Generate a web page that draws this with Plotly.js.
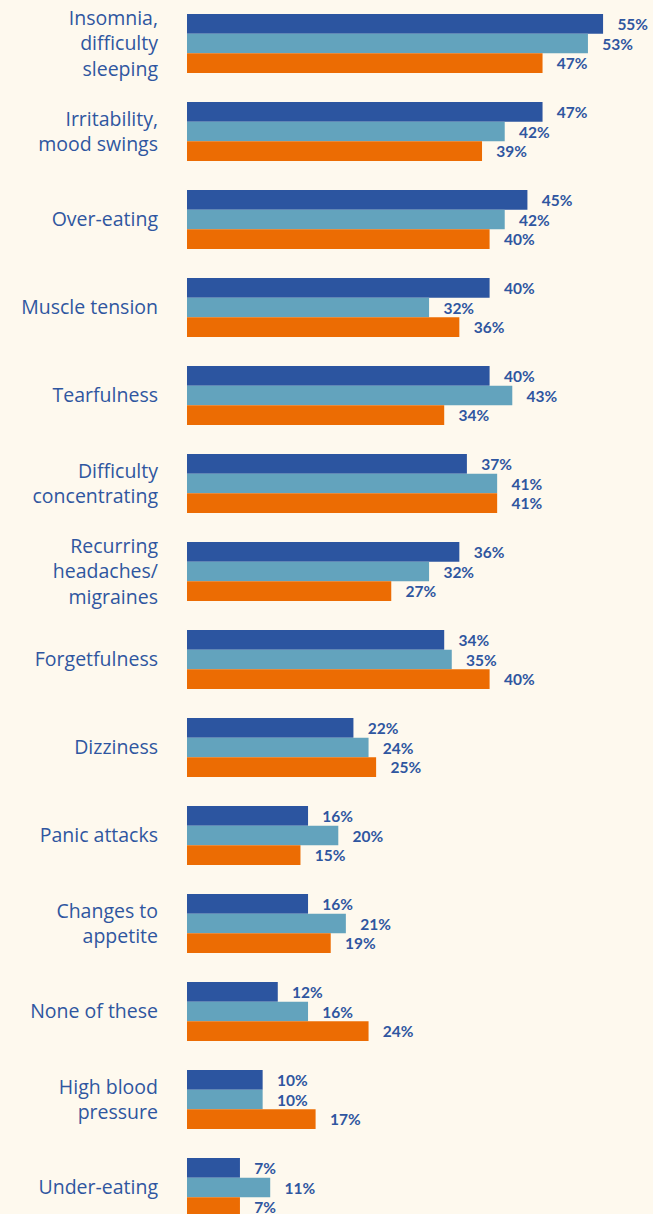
<!DOCTYPE html>
<html><head><meta charset="utf-8">
<script src="https://cdn.plot.ly/plotly-3.0.1.min.js"></script>
<style>html,body{margin:0;padding:0;background:#fef9ee;}#chart{width:653px;height:1214px;}</style>
</head><body><div id="chart"></div>
<script>
const categories = ["Insomnia,<br>difficulty<br>sleeping","Irritability,<br>mood swings","Over-eating","Muscle tension","Tearfulness","Difficulty<br>concentrating","Recurring<br>headaches/<br>migraines","Forgetfulness","Dizziness","Panic attacks","Changes to<br>appetite","None of these","High blood<br>pressure","Under-eating"];
const seriesA = [55,47,45,40,40,37,36,34,22,16,16,12,10,7];
const seriesB = [53,42,42,32,43,41,32,35,24,20,21,16,10,11];
const seriesC = [47,39,40,36,34,41,27,40,25,15,19,24,17,7];
const seriesNames = ["Series 1","Series 2","Series 3"];
const colors = ["#2c55a0","#63a3bd","#ec6c03"];
const labelColor = "#2f56a0";

const all = [seriesA, seriesB, seriesC];
const traces = all.map((vals, i) => ({
  type: "bar", orientation: "h",
  name: seriesNames[i],
  y: categories, x: vals,
  marker: {color: colors[i]},
  text: vals.map(v => "\u00a0\u00a0\u00a0" + v + "%"),
  textposition: "outside",
  textfont: {family: "Lato, sans-serif", size: 15.5, color: labelColor, weight: 700},
  constraintext: "none",
  cliponaxis: false,
  hoverinfo: "skip"
}));

const layout = {
  width: 653, height: 1214,
  margin: {l: 187, r: 0, t: 0, b: 0},
  paper_bgcolor: "#fef9ee", plot_bgcolor: "#fef9ee",
  barmode: "group", bargap: 0.33, bargroupgap: 0,
  showlegend: false,
  xaxis: {range: [0, 61.6], visible: false, fixedrange: true},
  yaxis: {
    type: "category", categoryorder: "array", categoryarray: categories,
    range: [13.301, -0.4943],
    showgrid: false, zeroline: false, showline: false, ticks: "",
    ticklabelstandoff: 28,
    tickfont: {family: "'Open Sans', sans-serif", size: 19.5, color: labelColor}
  },
  font: {family: "Lato, sans-serif"}
};
Plotly.newPlot("chart", traces, layout, {displayModeBar: false, staticPlot: true});
</script></body></html>
